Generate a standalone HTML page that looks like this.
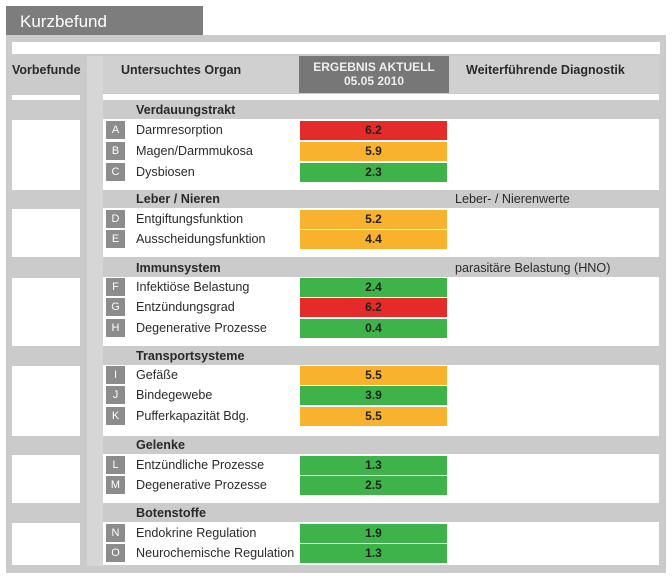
<!DOCTYPE html>
<html><head><meta charset="utf-8"><style>
*{margin:0;padding:0;box-sizing:border-box}
body{width:672px;height:579px;background:#fff;position:relative;overflow:hidden;font-family:"Liberation Sans",sans-serif;color:#2a2a2a}
.a{position:absolute}
.t{font-size:12.6px;line-height:20px;white-space:nowrap}
.b{font-weight:bold}
.l{position:absolute;left:106px;width:19px;height:18px;background:#8c8c8c;color:#fff;font-size:11px;line-height:18px;text-align:center}
.v{position:absolute;left:300px;width:147px;height:19px;font-size:12px;font-weight:bold;line-height:19px;text-align:center;color:#222}
.r{background:#e52a2a}.o{background:#f8b22e}.g{background:#3db34a}
</style></head><body>
<div class="a" style="left:6px;top:6px;width:197px;height:30px;background:#7d7d7d"></div>
<div class="a t" style="left:20px;top:10px;color:#fff;font-size:17px;line-height:24px">Kurzbefund</div>
<div class="a" style="left:6px;top:35px;width:660px;height:538px;background:#cbcbcb"></div>
<div class="a" style="left:12px;top:42px;width:648px;height:12px;background:#fff"></div>
<div class="a" style="left:87px;top:56px;width:16px;height:510px;background:#d6d6d6"></div>
<div class="a" style="left:103px;top:56px;width:556px;height:37px;background:#d0d0d0"></div>
<div class="a" style="left:299px;top:56px;width:150px;height:37px;background:#777"></div>
<div class="a t b" style="left:12px;top:60px;font-size:12.5px">Vorbefunde</div>
<div class="a t b" style="left:121px;top:60px;font-size:12.5px">Untersuchtes Organ</div>
<div class="a b" style="left:299px;top:60px;width:150px;text-align:center;color:#eee;font-size:12px;line-height:14px">ERGEBNIS AKTUELL<br>05.05 2010</div>
<div class="a t b" style="left:466px;top:60px;font-size:12.5px">Weiterführende Diagnostik</div>
<div class="a" style="left:12px;top:95px;width:68px;height:5px;background:#fff"></div>
<div class="a" style="left:103px;top:94px;width:556px;height:6px;background:#fff"></div>

<div class="a" style="left:103px;top:119px;width:556px;height:71px;background:#fff"></div>
<div class="a" style="left:12px;top:120px;width:68px;height:70px;background:#fff"></div>
<div class="a" style="left:103px;top:208px;width:556px;height:49px;background:#fff"></div>
<div class="a" style="left:12px;top:209px;width:68px;height:48px;background:#fff"></div>
<div class="a" style="left:103px;top:277px;width:556px;height:69px;background:#fff"></div>
<div class="a" style="left:12px;top:278px;width:68px;height:68px;background:#fff"></div>
<div class="a" style="left:103px;top:365px;width:556px;height:71px;background:#fff"></div>
<div class="a" style="left:12px;top:366px;width:68px;height:70px;background:#fff"></div>
<div class="a" style="left:103px;top:454px;width:556px;height:49px;background:#fff"></div>
<div class="a" style="left:12px;top:455px;width:68px;height:48px;background:#fff"></div>
<div class="a" style="left:103px;top:522px;width:556px;height:43px;background:#fff"></div>
<div class="a" style="left:12px;top:523px;width:68px;height:42px;background:#fff"></div>

<div class="a t b" style="left:136px;top:100px">Verdauungstrakt</div>
<div class="a t b" style="left:136px;top:189px">Leber / Nieren</div>
<div class="a t" style="left:455px;top:189px">Leber- / Nierenwerte</div>
<div class="a t b" style="left:136px;top:258px">Immunsystem</div>
<div class="a t" style="left:455px;top:258px">parasitäre Belastung (HNO)</div>
<div class="a t b" style="left:136px;top:346px">Transportsysteme</div>
<div class="a t b" style="left:136px;top:435px">Gelenke</div>
<div class="a t b" style="left:136px;top:503px">Botenstoffe</div>

<div class="l" style="top:121px">A</div><div class="a t" style="left:136px;top:120px">Darmresorption</div><div class="v r" style="top:121px">6.2</div>
<div class="l" style="top:142px">B</div><div class="a t" style="left:136px;top:141px">Magen/Darmmukosa</div><div class="v o" style="top:142px">5.9</div>
<div class="l" style="top:163px">C</div><div class="a t" style="left:136px;top:162px">Dysbiosen</div><div class="v g" style="top:163px">2.3</div>

<div class="l" style="top:210px">D</div><div class="a t" style="left:136px;top:209px">Entgiftungsfunktion</div><div class="v o" style="top:210px">5.2</div>
<div class="l" style="top:230px">E</div><div class="a t" style="left:136px;top:229px">Ausscheidungsfunktion</div><div class="v o" style="top:230px">4.4</div>

<div class="l" style="top:278px">F</div><div class="a t" style="left:136px;top:277px">Infektiöse Belastung</div><div class="v g" style="top:278px">2.4</div>
<div class="l" style="top:298px">G</div><div class="a t" style="left:136px;top:297px">Entzündungsgrad</div><div class="v r" style="top:298px">6.2</div>
<div class="l" style="top:319px">H</div><div class="a t" style="left:136px;top:318px">Degenerative Prozesse</div><div class="v g" style="top:319px">0.4</div>

<div class="l" style="top:366px">I</div><div class="a t" style="left:136px;top:365px">Gefäße</div><div class="v o" style="top:366px">5.5</div>
<div class="l" style="top:386px">J</div><div class="a t" style="left:136px;top:385px">Bindegewebe</div><div class="v g" style="top:386px">3.9</div>
<div class="l" style="top:407px">K</div><div class="a t" style="left:136px;top:406px">Pufferkapazität Bdg.</div><div class="v o" style="top:407px">5.5</div>

<div class="l" style="top:456px">L</div><div class="a t" style="left:136px;top:455px">Entzündliche Prozesse</div><div class="v g" style="top:456px">1.3</div>
<div class="l" style="top:476px">M</div><div class="a t" style="left:136px;top:475px">Degenerative Prozesse</div><div class="v g" style="top:476px">2.5</div>

<div class="l" style="top:524px">N</div><div class="a t" style="left:136px;top:523px">Endokrine Regulation</div><div class="v g" style="top:524px">1.9</div>
<div class="l" style="top:544px">O</div><div class="a t" style="left:136px;top:543px">Neurochemische Regulation</div><div class="v g" style="top:544px">1.3</div>
</body></html>
